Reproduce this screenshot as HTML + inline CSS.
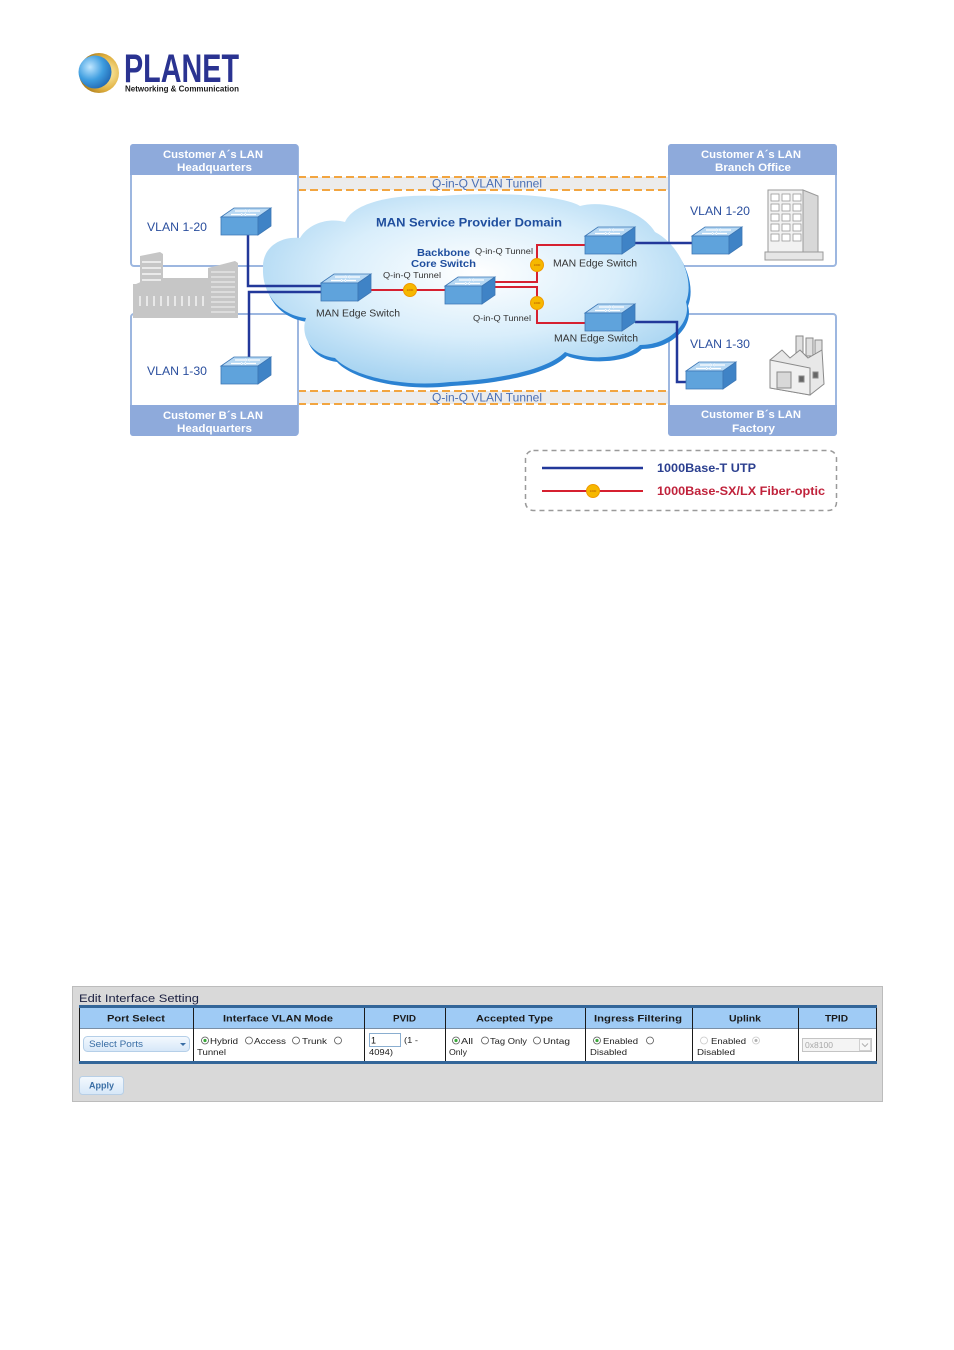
<!DOCTYPE html>
<html><head><meta charset="utf-8"><style>
html,body{margin:0;padding:0;background:#fff;}
svg{display:block;}
text{font-family:"Liberation Sans",Arial,sans-serif;}
</style></head><body>
<svg width="954" height="1350" viewBox="0 0 954 1350" xmlns="http://www.w3.org/2000/svg">
<defs>
 <radialGradient id="cg" cx="0.5" cy="0.42" r="0.6">
  <stop offset="0" stop-color="#ffffff"/>
  <stop offset="0.55" stop-color="#d9eefb"/>
  <stop offset="1" stop-color="#a6d3f1"/>
 </radialGradient>
 <radialGradient id="globeGold" cx="0.7" cy="0.5" r="0.7">
  <stop offset="0" stop-color="#fff2b0"/>
  <stop offset="0.6" stop-color="#e0b040"/>
  <stop offset="1" stop-color="#a07010"/>
 </radialGradient>
 <radialGradient id="globeBlue" cx="0.35" cy="0.35" r="0.8">
  <stop offset="0" stop-color="#bfe6ff"/>
  <stop offset="0.5" stop-color="#3f9ee0"/>
  <stop offset="1" stop-color="#1a5aa8"/>
 </radialGradient>
 <linearGradient id="selg" x1="0" y1="0" x2="0" y2="1">
  <stop offset="0" stop-color="#f4f9fe"/>
  <stop offset="1" stop-color="#d6e7f8"/>
 </linearGradient>
 <g id="sw">
  <polygon points="0,9 13,0 50,0 37,9" fill="#b7d8f3" stroke="#3d77b5" stroke-width="0.8"/>
  <polygon points="0,9 37,9 37,27 0,27" fill="#5fa3dc" stroke="#3d77b5" stroke-width="0.8"/>
  <polygon points="37,9 50,0 50,18 37,27" fill="#3f83c6" stroke="#3d77b5" stroke-width="0.8"/>
  <path d="M14,3 h10 M29,3 h10 M10,6.5 h10 M25,6.5 h10" stroke="#ffffff" stroke-width="1.2"/>
  <path d="M24,1.8 l2,1.2 l-2,1.2 M29,1.8 l-2,1.2 l2,1.2 M20,5.3 l2,1.2 l-2,1.2 M25,5.3 l-2,1.2 l2,1.2" stroke="#ffffff" stroke-width="0.8" fill="none"/>
 </g>
 <g id="dot">
  <circle r="6.5" fill="#f6b800" stroke="#f09a00" stroke-width="1"/>
  <text x="0" y="1.2" font-size="3" text-anchor="middle" fill="#b05000">1000</text>
 </g>
</defs>

<!-- LOGO -->
<circle cx="99" cy="73" r="20" fill="url(#globeGold)"/>
<circle cx="95" cy="72" r="16.5" fill="url(#globeBlue)"/>
<text x="124" y="82" font-size="40" font-weight="bold" fill="#2a3391" textLength="115" lengthAdjust="spacingAndGlyphs">PLANET</text>
<text x="125" y="91.5" font-size="8.5" font-weight="bold" fill="#1a1a1a" textLength="114" lengthAdjust="spacingAndGlyphs">Networking &amp; Communication</text>

<!-- Tunnel bands -->
<rect x="298" y="177" width="371" height="13" fill="#ececec"/>
<line x1="298" y1="177" x2="669" y2="177" stroke="#f2a540" stroke-width="2" stroke-dasharray="8,4"/>
<line x1="298" y1="190" x2="669" y2="190" stroke="#f2a540" stroke-width="2" stroke-dasharray="8,4"/>
<text x="432" y="187.5" font-size="12" fill="#4a6fb5" textLength="110" lengthAdjust="spacingAndGlyphs">Q-in-Q VLAN Tunnel</text>
<rect x="298" y="391" width="371" height="13" fill="#ececec"/>
<line x1="298" y1="391" x2="669" y2="391" stroke="#f2a540" stroke-width="2" stroke-dasharray="8,4"/>
<line x1="298" y1="404" x2="669" y2="404" stroke="#f2a540" stroke-width="2" stroke-dasharray="8,4"/>
<text x="432" y="401.5" font-size="12" fill="#4a6fb5" textLength="110" lengthAdjust="spacingAndGlyphs">Q-in-Q VLAN Tunnel</text>

<!-- Boxes -->
<g stroke="#9db7e0" stroke-width="2" fill="#ffffff">
 <rect x="131" y="145" width="167" height="121" rx="3"/>
 <rect x="131" y="314" width="167" height="121" rx="3"/>
 <rect x="669" y="145" width="167" height="121" rx="3"/>
 <rect x="669" y="314" width="167" height="121" rx="3"/>
</g>
<g fill="#8eaadb">
 <path d="M130,147 a3,3 0 0 1 3,-3 h162 a3,3 0 0 1 3,3 v28 h-168 z"/>
 <path d="M668,147 a3,3 0 0 1 3,-3 h163 a3,3 0 0 1 3,3 v28 h-169 z"/>
 <path d="M130,405 h168 v28 a3,3 0 0 1 -3,3 h-162 a3,3 0 0 1 -3,-3 z"/>
 <path d="M668,405 h169 v28 a3,3 0 0 1 -3,3 h-163 a3,3 0 0 1 -3,-3 z"/>
</g>
<g font-size="11" font-weight="bold" fill="#ffffff">
 <text x="163" y="158" textLength="100" lengthAdjust="spacingAndGlyphs">Customer A´s LAN</text>
 <text x="177" y="171" textLength="75" lengthAdjust="spacingAndGlyphs">Headquarters</text>
 <text x="701" y="158" textLength="100" lengthAdjust="spacingAndGlyphs">Customer A´s LAN</text>
 <text x="715" y="171" textLength="76" lengthAdjust="spacingAndGlyphs">Branch Office</text>
 <text x="163" y="419" textLength="100" lengthAdjust="spacingAndGlyphs">Customer B´s LAN</text>
 <text x="177" y="432" textLength="75" lengthAdjust="spacingAndGlyphs">Headquarters</text>
 <text x="701" y="418" textLength="100" lengthAdjust="spacingAndGlyphs">Customer B´s LAN</text>
 <text x="732" y="432" textLength="43" lengthAdjust="spacingAndGlyphs">Factory</text>
</g>

<!-- Left building -->
<g fill="#c6c6c6">
 <polygon points="140,256 160,252 163,254 163,292 140,292"/>
 <rect x="133" y="284" width="80" height="34"/>
 <polygon points="136,284 150,278 210,278 210,284"/>
 <polygon points="208,268 235,261 238,263 238,318 208,318"/>
</g>
<g stroke="#ffffff" stroke-width="1.2">
 <path d="M142,262 h19 M142,268 h19 M142,274 h19 M142,280 h19"/>
 <path d="M140,296 v10 M147,296 v10 M154,296 v10 M161,296 v10 M168,296 v10 M175,296 v10 M182,296 v10 M189,296 v10 M196,296 v10 M203,296 v10"/>
 <path d="M211,272 h24 M211,277 h24 M211,282 h24 M211,287 h24 M211,292 h24 M211,297 h24 M211,302 h24 M211,307 h24 M211,312 h24" stroke-width="0.8"/>
</g>

<!-- Branch office building -->
<g stroke="#9a9a9a" stroke-width="1" fill="#f2f2f2">
 <rect x="768" y="190" width="35" height="62"/>
 <polygon points="803,190 818,196 818,252 803,252" fill="#d8d8d8"/>
 <rect x="765" y="252" width="58" height="8" fill="#e6e6e6"/>
</g>
<g fill="#ffffff" stroke="#9a9a9a" stroke-width="0.8">
 <rect x="771" y="194" width="8" height="7"/><rect x="782" y="194" width="8" height="7"/><rect x="793" y="194" width="8" height="7"/>
 <rect x="771" y="204" width="8" height="7"/><rect x="782" y="204" width="8" height="7"/><rect x="793" y="204" width="8" height="7"/>
 <rect x="771" y="214" width="8" height="7"/><rect x="782" y="214" width="8" height="7"/><rect x="793" y="214" width="8" height="7"/>
 <rect x="771" y="224" width="8" height="7"/><rect x="782" y="224" width="8" height="7"/><rect x="793" y="224" width="8" height="7"/>
 <rect x="771" y="234" width="8" height="7"/><rect x="782" y="234" width="8" height="7"/><rect x="793" y="234" width="8" height="7"/>
</g>

<!-- Factory -->
<g stroke="#8a8a8a" stroke-width="1">
 <rect x="796" y="336" width="7" height="18" fill="#e0e0e0"/>
 <rect x="806" y="338" width="7" height="18" fill="#e0e0e0"/>
 <rect x="815" y="340" width="7" height="18" fill="#e0e0e0"/>
 <polygon points="770,360 782,350 790,358 800,350 808,358 822,350 824,384 810,395 770,388" fill="#e8e8e8"/>
 <polygon points="770,360 810,368 810,395 770,388" fill="#f0f0f0"/>
 <rect x="777" y="372" width="14" height="16" fill="#d8d8d8"/>
 <rect x="813" y="372" width="5" height="6" fill="#666"/>
 <rect x="799" y="376" width="5" height="6" fill="#666"/>
</g>

<!-- Cloud -->
<path transform="translate(2,4)" fill="#2b82d2" d="M263,268 C262,248 280,236 300,238 C310,222 330,218 345,222 C355,200 400,194 440,196 C490,192 560,194 580,206 C600,200 640,208 655,232 C680,245 695,280 686,302 C692,322 670,345 640,345 C625,360 585,360 565,352 C545,372 490,380 450,382 C400,388 350,375 335,358 C310,355 300,335 306,318 C280,315 262,295 263,268 Z"/>
<path fill="url(#cg)" d="M263,268 C262,248 280,236 300,238 C310,222 330,218 345,222 C355,200 400,194 440,196 C490,192 560,194 580,206 C600,200 640,208 655,232 C680,245 695,280 686,302 C692,322 670,345 640,345 C625,360 585,360 565,352 C545,372 490,380 450,382 C400,388 350,375 335,358 C310,355 300,335 306,318 C280,315 262,295 263,268 Z"/>

<!-- Blue links -->
<g stroke="#22389a" stroke-width="2.5" fill="none">
 <polyline points="248,235 248,286 322,286"/>
 <polyline points="249,357 249,292 322,292"/>
 <line x1="635" y1="243" x2="693" y2="243"/>
 <polyline points="635,322 677,322 677,382 687,382"/>
</g>

<!-- Red links -->
<g stroke="#d62030" stroke-width="2" fill="none">
 <line x1="371" y1="290" x2="446" y2="290"/>
 <polyline points="495,282 537,282 537,245 586,245"/>
 <polyline points="495,287 537,287 537,323 586,323"/>
</g>
<use href="#dot" x="410" y="290"/>
<use href="#dot" x="537" y="265"/>
<use href="#dot" x="537" y="303"/>

<!-- Switches -->
<use href="#sw" x="221" y="208"/>
<use href="#sw" x="221" y="357"/>
<use href="#sw" x="321" y="274"/>
<use href="#sw" x="445" y="277"/>
<use href="#sw" x="585" y="227"/>
<use href="#sw" x="585" y="304"/>
<use href="#sw" x="692" y="227"/>
<use href="#sw" x="686" y="362"/>

<!-- Cloud labels -->
<text x="376" y="226.5" font-size="12" font-weight="bold" fill="#1f4e9e" textLength="186" lengthAdjust="spacingAndGlyphs">MAN Service Provider Domain</text>
<text x="417" y="256" font-size="10.5" font-weight="bold" fill="#1f4e9e" textLength="53" lengthAdjust="spacingAndGlyphs">Backbone</text>
<text x="411" y="267" font-size="10.5" font-weight="bold" fill="#1f4e9e" textLength="65" lengthAdjust="spacingAndGlyphs">Core Switch</text>
<g font-size="8.5" fill="#333333">
 <text x="475" y="254" textLength="58" lengthAdjust="spacingAndGlyphs">Q-in-Q Tunnel</text>
 <text x="383" y="278" textLength="58" lengthAdjust="spacingAndGlyphs">Q-in-Q Tunnel</text>
 <text x="473" y="321" textLength="58" lengthAdjust="spacingAndGlyphs">Q-in-Q Tunnel</text>
</g>
<g font-size="10" fill="#333333">
 <text x="316" y="316.5" textLength="84" lengthAdjust="spacingAndGlyphs">MAN Edge Switch</text>
 <text x="553" y="266.5" textLength="84" lengthAdjust="spacingAndGlyphs">MAN Edge Switch</text>
 <text x="554" y="341.5" textLength="84" lengthAdjust="spacingAndGlyphs">MAN Edge Switch</text>
</g>
<g font-size="12" fill="#2b4f9e">
 <text x="147" y="231" textLength="60" lengthAdjust="spacingAndGlyphs">VLAN 1-20</text>
 <text x="147" y="375" textLength="60" lengthAdjust="spacingAndGlyphs">VLAN 1-30</text>
 <text x="690" y="215" textLength="60" lengthAdjust="spacingAndGlyphs">VLAN 1-20</text>
 <text x="690" y="348" textLength="60" lengthAdjust="spacingAndGlyphs">VLAN 1-30</text>
</g>

<!-- Legend -->
<rect x="525.5" y="450.5" width="311" height="60" rx="8" fill="none" stroke="#9a9a9a" stroke-width="1.5" stroke-dasharray="5,4"/>
<line x1="542" y1="468" x2="643" y2="468" stroke="#22389a" stroke-width="2.5"/>
<text x="657" y="472" font-size="12" font-weight="bold" fill="#2b3f8f" textLength="99" lengthAdjust="spacingAndGlyphs">1000Base-T UTP</text>
<line x1="542" y1="491" x2="643" y2="491" stroke="#d62030" stroke-width="2"/>
<use href="#dot" x="593" y="491"/>
<text x="657" y="495" font-size="12" font-weight="bold" fill="#c0223b" textLength="168" lengthAdjust="spacingAndGlyphs">1000Base-SX/LX Fiber-optic</text>

<!-- TABLE PANEL -->
<rect x="72.5" y="986.5" width="810" height="115" fill="#d9d9d9" stroke="#bcbcbc" stroke-width="1"/>
<text x="79" y="1002" font-size="11" fill="#1a1f40" textLength="120" lengthAdjust="spacingAndGlyphs">Edit Interface Setting</text>
<rect x="79" y="1005" width="798" height="3" fill="#336699"/>
<rect x="79" y="1008" width="798" height="20" fill="#9fcbf5"/>
<rect x="79" y="1028" width="798" height="33" fill="#ffffff"/>
<rect x="79" y="1061" width="798" height="3" fill="#336699"/>
<line x1="79" y1="1028.5" x2="877" y2="1028.5" stroke="#7a8fa6" stroke-width="1"/>
<g stroke="#1a1a1a" stroke-width="1">
 <line x1="79.5" y1="1008" x2="79.5" y2="1061"/>
 <line x1="193.5" y1="1008" x2="193.5" y2="1061"/>
 <line x1="364.5" y1="1008" x2="364.5" y2="1061"/>
 <line x1="445.5" y1="1008" x2="445.5" y2="1061"/>
 <line x1="585.5" y1="1008" x2="585.5" y2="1061"/>
 <line x1="692.5" y1="1008" x2="692.5" y2="1061"/>
 <line x1="798.5" y1="1008" x2="798.5" y2="1061"/>
 <line x1="876.5" y1="1008" x2="876.5" y2="1061"/>
</g>
<g font-size="9.5" font-weight="bold" fill="#1a1a1a">
 <text x="107" y="1021.5" textLength="58" lengthAdjust="spacingAndGlyphs">Port Select</text>
 <text x="223" y="1021.5" textLength="110" lengthAdjust="spacingAndGlyphs">Interface VLAN Mode</text>
 <text x="393" y="1021.5" textLength="23" lengthAdjust="spacingAndGlyphs">PVID</text>
 <text x="476" y="1021.5" textLength="77" lengthAdjust="spacingAndGlyphs">Accepted Type</text>
 <text x="594" y="1021.5" textLength="88" lengthAdjust="spacingAndGlyphs">Ingress Filtering</text>
 <text x="729" y="1021.5" textLength="32" lengthAdjust="spacingAndGlyphs">Uplink</text>
 <text x="825" y="1021.5" textLength="23" lengthAdjust="spacingAndGlyphs">TPID</text>
</g>

<!-- body row -->
<rect x="83.5" y="1036.5" width="106" height="15" rx="4" fill="url(#selg)" stroke="#b5cfe8"/>
<text x="89" y="1047" font-size="9" fill="#3a6ea5" textLength="54" lengthAdjust="spacingAndGlyphs">Select Ports</text>
<polygon points="180,1043 186,1043 183,1046" fill="#3a6ea5"/>

<g fill="#ffffff" stroke="#555" stroke-width="0.8">
 <circle cx="205" cy="1040.5" r="3.5"/>
 <circle cx="249" cy="1040.5" r="3.5"/>
 <circle cx="296" cy="1040.5" r="3.5"/>
 <circle cx="338" cy="1040.5" r="3.5"/>
 <circle cx="456" cy="1040.5" r="3.5"/>
 <circle cx="485" cy="1040.5" r="3.5"/>
 <circle cx="537" cy="1040.5" r="3.5"/>
 <circle cx="597" cy="1040.5" r="3.5"/>
 <circle cx="650" cy="1040.5" r="3.5"/>
</g>
<g fill="#ffffff" stroke="#c8c8c8" stroke-width="0.8">
 <circle cx="704" cy="1040.5" r="3.5"/>
 <circle cx="756" cy="1040.5" r="3.5"/>
</g>
<g fill="#3aa83a">
 <circle cx="205" cy="1040.5" r="1.6"/>
 <circle cx="456" cy="1040.5" r="1.6"/>
 <circle cx="597" cy="1040.5" r="1.6"/>
</g>
<circle cx="756" cy="1040.5" r="1.5" fill="#b0b0b0"/>

<g font-size="8.5" fill="#222222">
 <text x="210" y="1044" textLength="28" lengthAdjust="spacingAndGlyphs">Hybrid</text>
 <text x="254" y="1044" textLength="32" lengthAdjust="spacingAndGlyphs">Access</text>
 <text x="302" y="1044" textLength="25" lengthAdjust="spacingAndGlyphs">Trunk</text>
 <text x="197" y="1055" textLength="29" lengthAdjust="spacingAndGlyphs">Tunnel</text>
 <text x="404" y="1043" textLength="14" lengthAdjust="spacingAndGlyphs">(1 -</text>
 <text x="369" y="1055" textLength="24" lengthAdjust="spacingAndGlyphs">4094)</text>
 <text x="461" y="1044" textLength="12" lengthAdjust="spacingAndGlyphs">All</text>
 <text x="490" y="1044" textLength="37" lengthAdjust="spacingAndGlyphs">Tag Only</text>
 <text x="543" y="1044" textLength="27" lengthAdjust="spacingAndGlyphs">Untag</text>
 <text x="449" y="1055" textLength="18" lengthAdjust="spacingAndGlyphs">Only</text>
 <text x="603" y="1044" textLength="35" lengthAdjust="spacingAndGlyphs">Enabled</text>
 <text x="590" y="1055" textLength="37" lengthAdjust="spacingAndGlyphs">Disabled</text>
 <text x="711" y="1044" textLength="35" lengthAdjust="spacingAndGlyphs">Enabled</text>
 <text x="697" y="1055" textLength="38" lengthAdjust="spacingAndGlyphs">Disabled</text>
</g>
<rect x="369.5" y="1033.5" width="31" height="13" fill="#ffffff" stroke="#8aaed0"/>
<text x="371" y="1043.5" font-size="9" fill="#111">1</text>

<rect x="802.5" y="1038.5" width="69" height="13" fill="#f4f4f4" stroke="#c4c4c4"/>
<rect x="859.5" y="1039.5" width="11" height="11" fill="#f8f8f8" stroke="#d0d0d0"/>
<path d="M862,1043.5 l3,3 l3,-3" stroke="#b0b0b0" fill="none"/>
<text x="805" y="1048" font-size="8.5" fill="#a8a8a8" textLength="28" lengthAdjust="spacingAndGlyphs">0x8100</text>

<!-- Apply -->
<rect x="79.5" y="1076.5" width="44" height="18" rx="3" fill="url(#selg)" stroke="#b8cfe6"/>
<text x="89" y="1088.5" font-size="9.5" font-weight="bold" fill="#3a6ea5" textLength="25" lengthAdjust="spacingAndGlyphs">Apply</text>
</svg>
</body></html>
